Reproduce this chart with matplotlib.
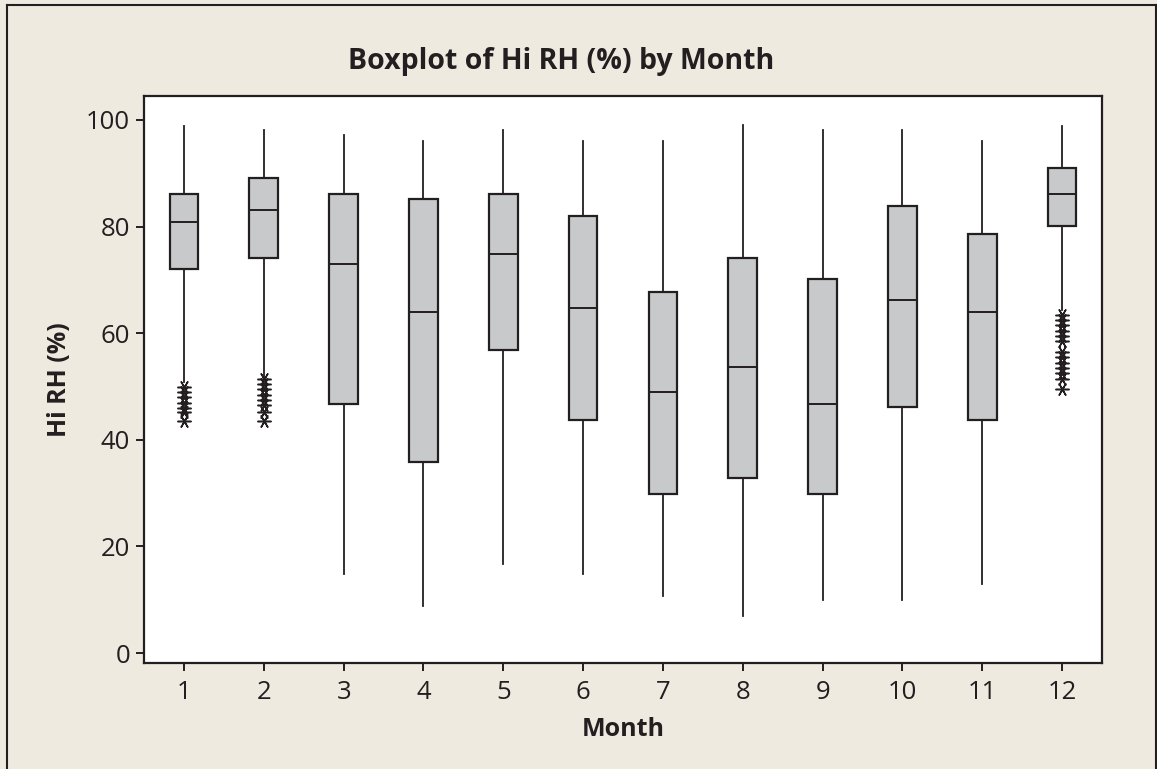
import matplotlib
matplotlib.use("Agg")
import matplotlib.pyplot as plt
from matplotlib.lines import Line2D

plt.rcParams['font.family'] = ['Open Sans', 'DejaVu Sans']

months = [1, 2, 3, 4, 5, 6, 7, 8, 9, 10, 11, 12]
whisker_hi = [98.9, 98.2, 97.1, 96.0, 98.2, 96.0, 96.0, 99.0, 98.2, 98.2, 96.0, 98.9]
q3 = [86.1, 89.1, 86.1, 85.1, 86.1, 82.0, 67.8, 74.2, 70.1, 83.9, 78.6, 91.0]
median = [80.9, 83.2, 73.0, 64.0, 74.9, 64.8, 49.0, 53.6, 46.8, 66.3, 64.0, 86.1]
q1 = [72.0, 74.2, 46.8, 35.9, 56.9, 43.8, 29.9, 32.9, 29.9, 46.1, 43.8, 80.1]
whisker_lo = [50.8, 51.8, 14.8, 8.8, 16.7, 14.8, 10.7, 6.9, 10.0, 10.0, 12.9, 64.3]
outliers = {
    1: [50, 49, 48, 47, 46, 45.3, 43.5],
    2: [51.5, 50.5, 49.5, 48.5, 47.5, 46.5, 45.3, 43.5],
    12: [63.5, 62.5, 61.5, 60.5, 59.5, 58.5, 56.5, 55.5, 54.5, 53.5, 52.5, 51.5, 49.5],
}
yticks = [0, 20, 40, 60, 80, 100]

BG = '#EEEAE0'
BOX = '#C8C9CB'
INK = '#231F20'

fig = plt.figure(figsize=(11.57, 7.69), dpi=100, facecolor=BG)
ax = fig.add_axes([0.1245, 0.1375, 0.828, 0.7377])
ax.set_facecolor('white')

stats = []
for i, m in enumerate(months):
    stats.append(dict(med=median[i], q1=q1[i], q3=q3[i],
                      whislo=whisker_lo[i], whishi=whisker_hi[i],
                      fliers=outliers.get(m, []), label=str(m)))

ax.bxp(stats, positions=months, widths=0.36, patch_artist=True,
       showcaps=False, showfliers=True,
       boxprops=dict(facecolor=BOX, edgecolor=INK, linewidth=1.6),
       medianprops=dict(color=INK, linewidth=1.4),
       whiskerprops=dict(color=INK, linewidth=1.3),
       flierprops=dict(marker=(6, 2, 90), markersize=10, markeredgecolor=INK,
                       markerfacecolor=INK, markeredgewidth=1.1, linestyle='none'))

ax.set_xlim(0.5, 12.5)
ax.set_ylim(-1.9, 104.5)
ax.set_yticks(yticks)
ax.set_xticks(months)
ax.set_xticklabels([str(m) for m in months])
for s in ax.spines.values():
    s.set_linewidth(1.6)
    s.set_color(INK)
ax.tick_params(axis='both', direction='out', length=6, width=1.4, color=INK,
               labelsize=18.5, labelcolor=INK)
ax.tick_params(axis='y', pad=4)
ax.tick_params(axis='x', pad=6)

ax.set_xlabel('Month', fontsize=18, fontweight='bold', color=INK, labelpad=9)
ax.set_ylabel('Hi RH (%)', fontsize=18, fontweight='bold', color=INK, labelpad=10)

fig.text(561 / 1157, 1 - 61 / 769, 'Boxplot of Hi RH (%) by Month',
         ha='center', va='center', fontsize=20.5, fontweight='bold', color=INK)

# outer frame (open at bottom)
x0, x1, yt = 6.5 / 1157, 1155.5 / 1157, 1 - 4.5 / 769
for xs, ys in [([x0, x0], [-0.1, yt]), ([x0, x1], [yt, yt]), ([x1, x1], [yt, -0.1])]:
    fig.add_artist(Line2D(xs, ys, transform=fig.transFigure, color=INK, linewidth=1.5))

fig.savefig('out.png', dpi=100, facecolor=BG)
